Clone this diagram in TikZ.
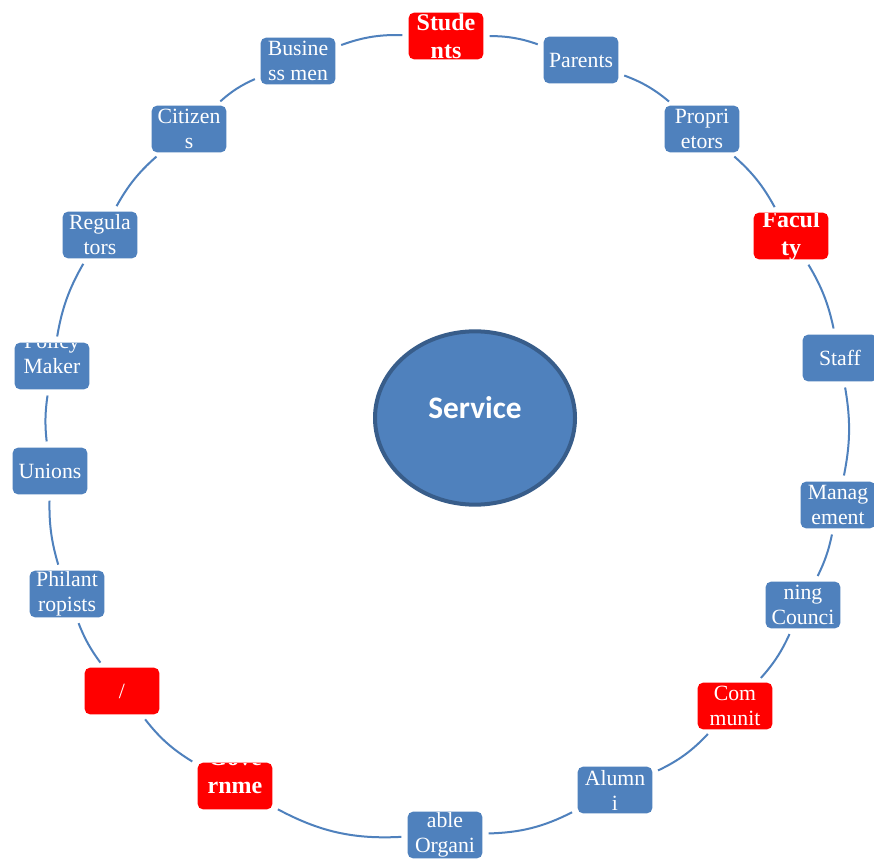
\documentclass[tikz,border=0pt]{standalone}
\usepackage{fontspec}
\setmainfont{Liberation Serif}
\newfontfamily\svcfont{Carlito}
\usetikzlibrary{shapes.geometric}
\definecolor{boxblue}{HTML}{4F81BD}
\definecolor{boxred}{HTML}{FF0000}
\definecolor{edgeblue}{HTML}{385D8A}
\tikzset{
  box/.style={rectangle, rounded corners=4pt, minimum width=56pt, minimum height=35pt, inner sep=0pt, draw=none},
  boxtext/.style={text=white, align=center, inner sep=0pt, font=\fontsize{16.3}{18.75}\selectfont},
  boldtext/.style={text=white, align=center, inner sep=0pt, font=\bfseries\fontsize{18}{21}\selectfont},
  conn/.style={draw=boxblue, line width=1.5pt, shorten >=4.5pt, shorten <=4.5pt},
  svc/.style={ellipse, fill=boxblue, draw=edgeblue, line width=3pt, minimum width=150pt, minimum height=130pt, inner sep=0pt},
  svctext/.style={text=white, font=\svcfont\bfseries\fontsize{23.5}{28}\selectfont, inner sep=0pt}
}
\newcommand\cbox[7]{%
  \node[box, fill=#4, path picture={\node[#5] at ([yshift=#6]path picture bounding box.center) {#7};}] (#1) at (#2,-#3) {};}
\begin{document}
\begin{tikzpicture}[x=0.75pt,y=0.75pt]
\useasboundingbox (0,0) rectangle (874,-859);
\clip (0,0) rectangle (874,-859);
\fill[white] (0,0) rectangle (874,-859);
\cbox{stu}{446}{36}{boxred}{boldtext}{0pt}{Stude\\nts}
\cbox{par}{581}{60}{boxblue}{boxtext}{0pt}{Parents}
\cbox{pro}{702}{129}{boxblue}{boxtext}{0pt}{Propri\\etors}
\cbox{fac}{791}{236}{boxred}{boldtext}{0pt}{Facul\\ty}
\cbox{sta}{840}{358}{boxblue}{boxtext}{0pt}{Staff}
\cbox{man}{838}{505}{boxblue}{boxtext}{0pt}{Manag\\ement}
\cbox{cou}{803}{605}{boxblue}{boxtext}{0pt}{ning\\Counci}
\cbox{com}{735}{706}{boxred}{boxtext}{0pt}{Com\\munit}
\cbox{alu}{615}{790}{boxblue}{boxtext}{0pt}{Alumn\\i}
\cbox{org}{445}{835}{boxblue}{boxtext}{0pt}{able\\Organi}
\cbox{gov}{235}{786}{boxred}{boldtext}{10.5pt}{Gove\\rnme}
\cbox{ngo}{122}{691}{boxred}{boxtext}{0pt}{/}
\cbox{phi}{67}{594}{boxblue}{boxtext}{0pt}{Philant\\ropists}
\cbox{uni}{50}{471}{boxblue}{boxtext}{0pt}{Unions}
\cbox{pol}{52}{366}{boxblue}{boxtext}{9.5pt}{Policy\\Maker}
\cbox{reg}{100}{235}{boxblue}{boxtext}{0pt}{Regula\\tors}
\cbox{cit}{189}{129}{boxblue}{boxtext}{0pt}{Citizen\\s}
\cbox{bus}{298}{61}{boxblue}{boxtext}{0pt}{Busine\\ss men}
\node[svc] (service) at (475,-418) {};
\node[svctext] (servicelabel) at ([yshift=8pt]service.center) {Service};
\foreach \a/\b/\ang in {stu/par/9.9, par/pro/10, pro/fac/10, fac/sta/9.5, sta/man/10.6, man/cou/7.6, cou/com/8.9, com/alu/10.7, alu/org/12.7, org/gov/15.5, gov/ngo/10.4, ngo/phi/7.8, phi/uni/8.8, uni/pol/7.5, pol/reg/10.1, reg/cit/9.9, cit/bus/9.3, bus/stu/10.75}
  \draw[conn] (\a) to[bend left=\ang] (\b);
\end{tikzpicture}
\end{document}
